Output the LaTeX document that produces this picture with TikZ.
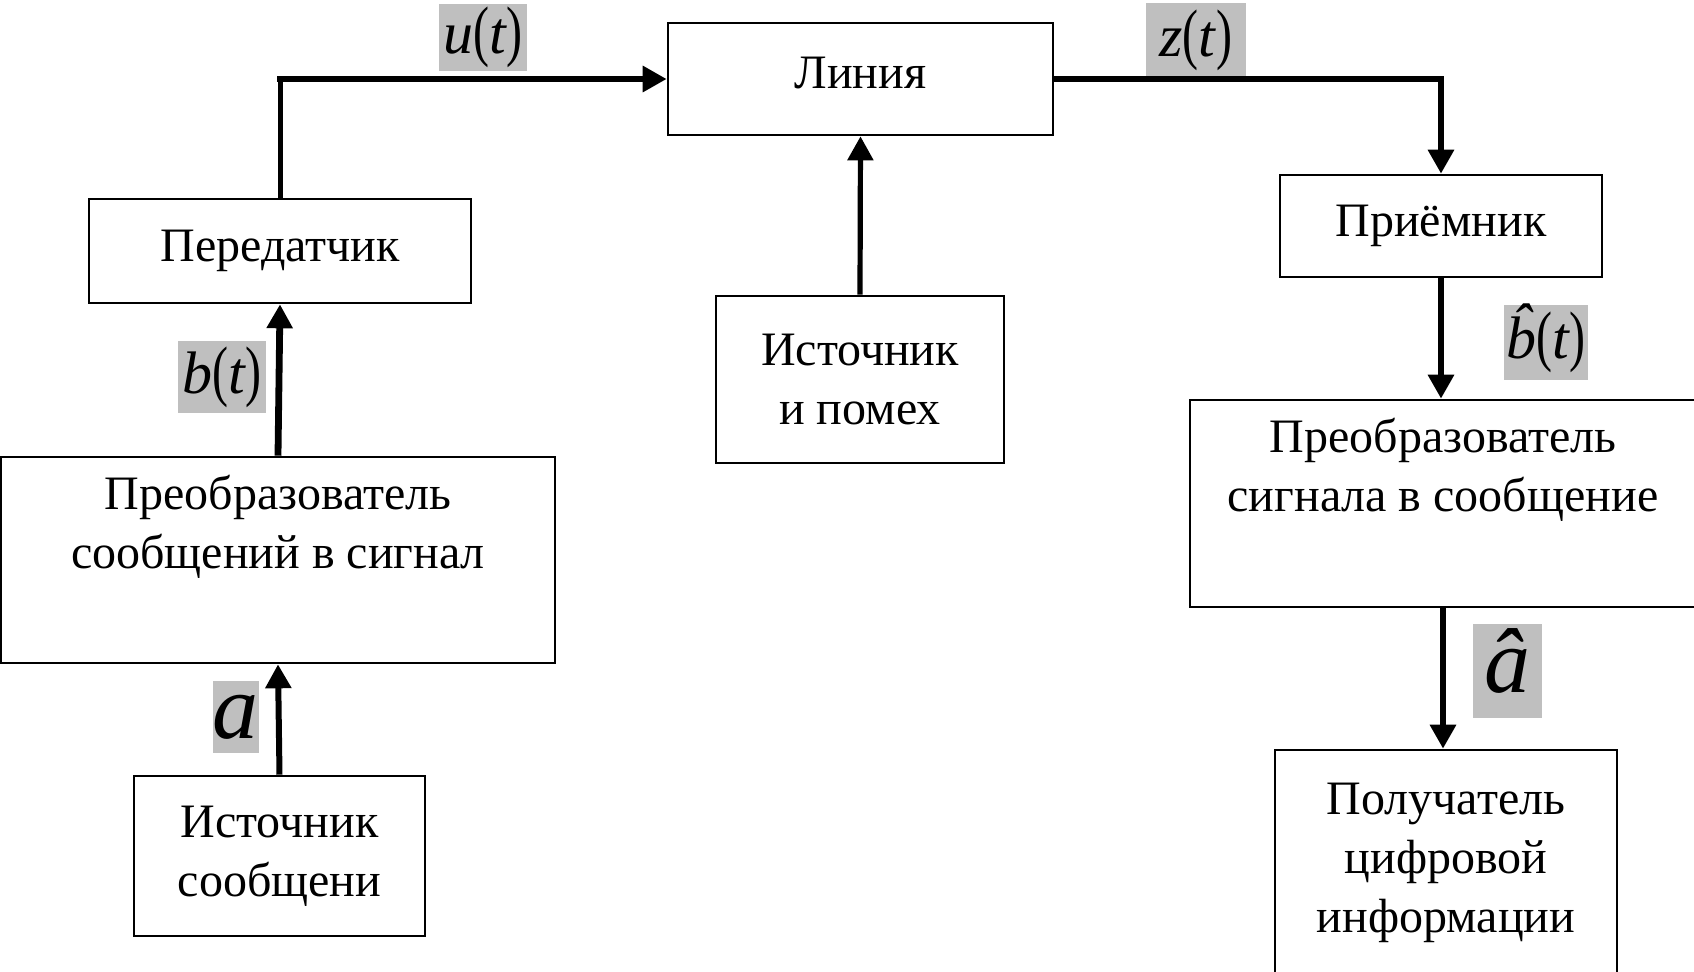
\documentclass[tikz,border=0pt]{standalone}
\usepackage{fontspec}
\setmainfont{Liberation Serif}
\usetikzlibrary{arrows.meta,positioning,calc}

\newcommand{\sigt}[1]{\textit{#1}\scalebox{0.8}[1.12]{(}\textit{t}\scalebox{0.8}[1.12]{)}}
\newcommand{\hatit}[2]{\ooalign{\textit{#1}\cr\hidewidth\raisebox{#2}{\textit{\char"02C6}}\hidewidth\cr}}

\begin{document}
\begin{tikzpicture}[x=0.5pt,y=-0.5pt,>={Triangle[width=12.5pt,length=12pt]},
    box/.style={draw,line width=1.3pt,align=center,inner sep=0pt,font=\fontsize{24}{29.5}\selectfont},
    sig/.style={fill=gray!50,inner sep=0pt,font=\fontsize{30}{30}\selectfont},
    wire/.style={line width=3.4pt}]
  \useasboundingbox (0,0) rectangle (1694,971);
  \clip (0,0) rectangle (1694,971);
  % blocks
  \node[box,minimum width=191pt,minimum height=52pt] (tx) at (280,251) {Передатчик};
  \node[box,minimum width=277pt,minimum height=103pt] (enc) at (278,560) {Преобразователь\\сообщений в сигнал\\\strut};
  \node[box,minimum width=145.5pt,minimum height=80pt] (src) at (279.5,856) {Источник\\сообщени};
  \node[box,minimum width=192.5pt,minimum height=56pt,text depth=6pt] (line) at (860.5,79) {Линия};
  \node[box,minimum width=144pt,minimum height=83.5pt] (noise) at (860,379.5) {Источник\\и помех};
  \node[box,minimum width=161pt,minimum height=51pt] (rx) at (1441,226) {Приёмник};
  \node[box,minimum width=253pt,minimum height=103.5pt] (dec) at (1443,503.5) {Преобразователь\\сигнала в сообщение\\\strut};
  \node[box,minimum width=171pt,minimum height=112.5pt] (dst) at (1446,862.5) {Получатель\\цифровой\\информации};
  % signals
  \node[sig,minimum width=44pt,minimum height=33.5pt] (ul) at (483,37) {\sigt{u}};
  \node[sig,minimum width=50pt,minimum height=37pt] (zl) at (1196,40) {\sigt{z}};
  \node[sig,minimum width=44pt,minimum height=36pt] (bl) at (222,377) {\sigt{b}};
  \node[sig,minimum width=42pt,minimum height=37.5pt] (bhl) at (1546,342.5) {\sigt{\hatit{b}{0.22em}}};
  \node[sig,minimum width=22.5pt,minimum height=36pt,font=\fontsize{46}{46}\selectfont] (al) at (235.5,717) {\textit{a}};
  \node[sig,minimum width=34.5pt,minimum height=47pt,font=\fontsize{46}{46}\selectfont] (ahl) at (1507,671) {\hatit{a}{0pt}};
  % links
  \coordinate (ucorner) at (tx.north |- line.west);
  \draw[line width=2.5pt,line cap=rect] (tx.north) -- (ucorner);
  \draw[wire,->,line cap=rect] (ucorner) -- (line.west);
  \draw[wire,->] (line.east) -| (rx.north);
  \draw[->,line width=2.6pt] (noise.north) -- (line.south);
  \draw[wire,->] (enc.north) -- (tx.south);
  \draw[->,line width=3pt] (src.north) -- (enc.south);
  \draw[wire,->] (rx.south) -- (rx.south |- dec.north);
  \draw[wire,->] (dec.south) -- (dec.south |- dst.north);
\end{tikzpicture}
\end{document}
